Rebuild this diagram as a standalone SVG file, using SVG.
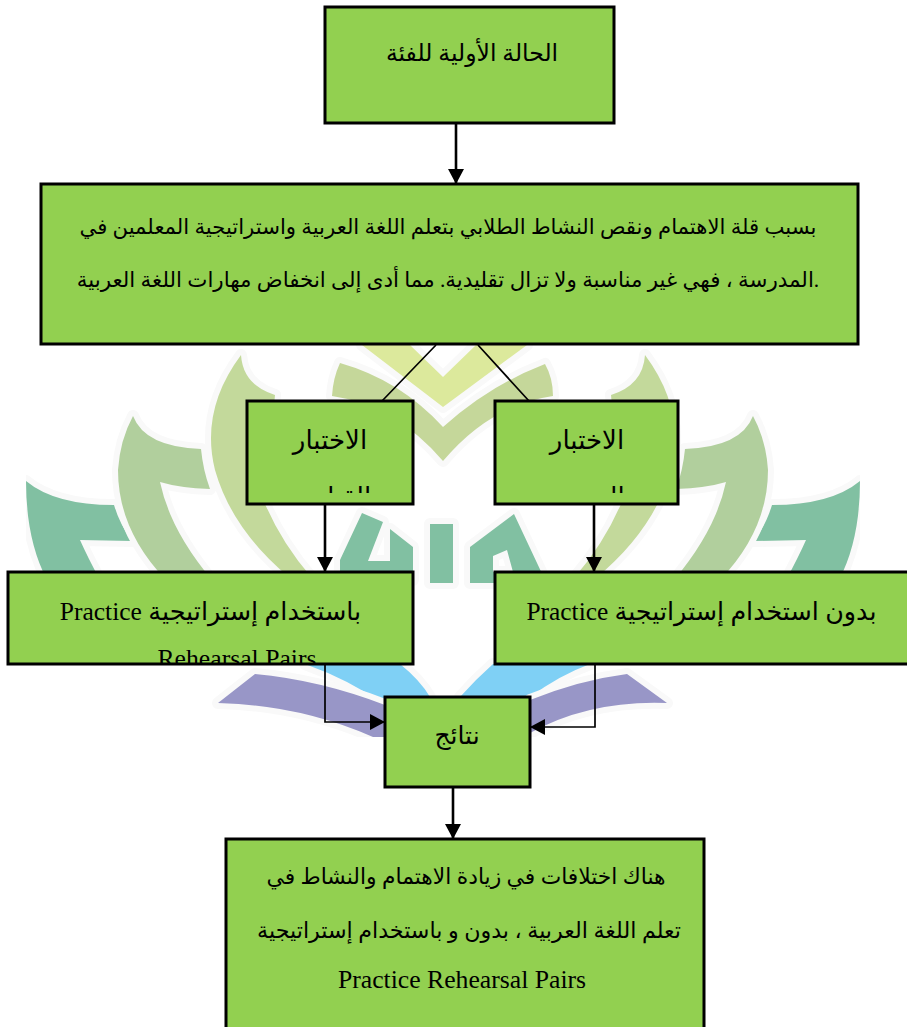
<svg xmlns="http://www.w3.org/2000/svg" width="907" height="1027" viewBox="0 0 907 1027">
<style>
.n{fill:#92d050;stroke:#000;stroke-width:3}
.c{fill:none;stroke:#000;stroke-width:2.6}
.d{fill:none;stroke:#000;stroke-width:1.7}
.t{font-family:"Liberation Serif","Noto Sans","DejaVu Sans",serif;font-size:23px;fill:#000;text-anchor:middle}
.w path{stroke:#f9f9f9;stroke-width:12;stroke-linejoin:round;paint-order:stroke}
</style>
<defs>
<marker id="a" markerUnits="userSpaceOnUse" markerWidth="16" markerHeight="16" refX="15" refY="8" orient="auto"><path d="M0 0L15 8L0 16Z" fill="#000"/></marker>
<filter id="b" x="0" y="0" width="1" height="1"><feGaussianBlur stdDeviation="0.7"/></filter>
<clipPath id="c1"><rect x="247" y="401" width="166" height="92"/></clipPath>
<clipPath id="c2"><rect x="495" y="401" width="183" height="92"/></clipPath>
<clipPath id="c3"><rect x="8" y="572" width="405" height="92"/></clipPath>
</defs>
<rect width="907" height="1027" fill="#fff"/>
<g id="watermark" class="w" filter="url(#b)">
<path fill="#81c0a2" d="M26 481Q55 505 114 505Q120 525 132 541L80 540Q88 558 100 580L47 580Q26 540 26 481Z"/>
<path fill="#b1cf9d" d="M133 416Q145 447 201 449Q203 470 210 489Q180 488 160 482Q170 530 212 580L166 580Q118 530 118 470Q120 440 133 416Z"/>
<path fill="#c3d99b" d="M241 355Q243 385 275 395L265 504Q283 545 312 578L290 578Q232 530 215 470Q200 410 241 355Z"/>
<path fill="#81c0a2" d="M860 481Q831 505 772 505Q766 525 754 541L806 540Q798 558 786 580L839 580Q860 540 860 481Z"/>
<path fill="#b1cf9d" d="M753 416Q741 447 685 449Q683 470 676 489Q706 488 726 482Q716 530 674 580L720 580Q768 530 768 470Q766 440 753 416Z"/>
<path fill="#c3d99b" d="M645 355Q643 385 611 395L621 504Q603 545 574 578L596 578Q654 530 671 470Q686 410 645 355Z"/>
<path fill="#dce99c" d="M362 345H410L443 377L476 345H527L443 407Z"/>
<path fill="#c5d79a" d="M340 363Q400 380 443 427Q490 385 545 364Q553 378 553 396Q490 405 443 461Q395 405 332 396Q333 378 340 363Z"/>
<path fill="#81c0a2" d="M362 513L383 522L368 561L390 561L390 529L413 547L413 580L340 580L340 560Z"/>
<path fill="#81c0a2" d="M430 524H453V583H430Z"/>
<path fill="#81c0a2" fill-rule="evenodd" d="M470 547L514 514L545 580L495 583H470ZM493 556L507 550L513 572H493Z"/>
<path fill="#7fd0f5" d="M305 664H400Q420 680 430 697L385 705Q350 680 305 664Z"/>
<path fill="#7fd0f5" d="M460 697Q475 680 493 664H590Q560 675 530 697Z"/>
<path fill="#9896c7" d="M218 703L255 674Q320 680 385 705L385 737L373 737Q300 705 218 703Z"/>
<path fill="#9896c7" d="M530 700Q580 680 627 674L667 703Q590 700 530 733Z"/>
</g>
<g id="connectors">
<path class="c" d="M456 124V184" marker-end="url(#a)"/>
<path class="d" d="M436 345L382 401M478 345L529 401"/>
<path class="c" d="M325 504V572" marker-end="url(#a)"/>
<path class="c" d="M594 504V572" marker-end="url(#a)"/>
<path class="d" d="M325 664V722H385" marker-end="url(#a)"/>
<path class="d" d="M595 664V727H530" marker-end="url(#a)"/>
<path class="c" d="M453 788V839" marker-end="url(#a)"/>
</g>
<g id="n1"><rect class="n" x="325" y="7" width="289" height="116"/><text class="t" style="font-size:23.5px" x="472" y="61" direction="rtl">الحالة الأولية للفئة</text></g>
<g id="n2"><rect class="n" x="41" y="184" width="817" height="160"/>
<text class="t" style="font-size:21.2px" x="448" y="234" direction="rtl">بسبب قلة الاهتمام ونقص النشاط الطلابي بتعلم اللغة العربية واستراتيجية المعلمين في</text>
<text class="t" style="font-size:21.4px" x="448" y="287" direction="rtl">.المدرسة ، فهي غير مناسبة ولا تزال تقليدية. مما أدى إلى انخفاض مهارات اللغة العربية</text></g>
<g id="n3"><rect class="n" x="247" y="401" width="166" height="103"/><text class="t" style="font-size:26px" x="330" y="449" direction="rtl">الاختبار</text><text class="t" style="font-size:26px" clip-path="url(#c1)" x="338" y="506" direction="rtl">القبلي</text></g>
<g id="n4"><rect class="n" x="495" y="401" width="183" height="103"/><text class="t" style="font-size:26px" x="587" y="449" direction="rtl">الاختبار</text><text class="t" style="font-size:26px" clip-path="url(#c2)" x="590" y="506" direction="rtl">البعدي</text></g>
<g id="n5"><rect class="n" x="8" y="572" width="405" height="92"/><text class="t" style="font-size:25.5px" x="210.500" y="620" direction="rtl">باستخدام إستراتيجية  Practice</text><text class="t" style="font-size:25.7px" clip-path="url(#c3)" x="237" y="667">Rehearsal Pairs</text></g>
<g id="n6"><rect class="n" x="495" y="572" width="420" height="92"/><text class="t" style="font-size:25.4px" x="701.500" y="620" direction="rtl">بدون استخدام إستراتيجية  Practice</text></g>
<g id="n7"><rect class="n" x="385" y="697" width="145" height="90"/><text class="t" style="font-size:25px" x="457" y="744" direction="rtl">نتائج</text></g>
<g id="n8"><rect class="n" x="226" y="839" width="478" height="195"/>
<text class="t" style="font-size:21.8px" x="466" y="884" direction="rtl">هناك اختلافات في زيادة الاهتمام والنشاط في</text>
<text class="t" style="font-size:22.2px" x="469" y="938" direction="rtl">تعلم اللغة العربية ، بدون و باستخدام إستراتيجية</text>
<text class="t" style="font-size:25.7px" x="462" y="988">Practice Rehearsal Pairs</text></g>
</svg>
